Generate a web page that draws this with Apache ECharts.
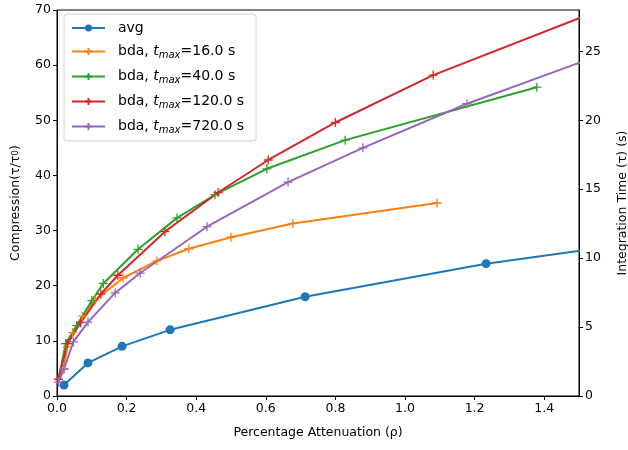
<!DOCTYPE html>
<html>
<head>
<meta charset="utf-8">
<script src="https://cdn.jsdelivr.net/npm/echarts@6/dist/echarts.min.js"></script>
<style>html,body{margin:0;padding:0;background:#fff;}#c{width:628px;height:450px;}</style>
</head>
<body>
<div id="c"></div>
<script>
// Data
const seriesNames = ['avg', 'bda16', 'bda40', 'bda120', 'bda720'];
const tmaxLabels = ['16.0', '40.0', '120.0', '720.0'];
const avgData = [[0.02, 2], [0.089, 6], [0.187, 9], [0.325, 12], [0.713, 18], [1.233, 24], [1.93, 30]];
const bda16Data = [[0.004, 3], [0.02, 4.9], [0.029, 8.9], [0.045, 11.5], [0.073, 14.5], [0.11, 17.4], [0.19, 21.4], [0.287, 24.5], [0.379, 26.7], [0.50, 28.8], [0.678, 31.3], [1.092, 35.0]];
const bda40Data = [[0.004, 3], [0.025, 9.5], [0.057, 12.8], [0.1, 17.3], [0.133, 20.4], [0.233, 26.6], [0.345, 32.3], [0.454, 36.5], [0.603, 41.2], [0.828, 46.4], [1.379, 56.0]];
const bda120Data = [[0.004, 3], [0.03, 9.5], [0.068, 13.3], [0.126, 18.5], [0.175, 21.9], [0.31, 29.8], [0.463, 36.9], [0.607, 42.8], [0.80, 49.6], [1.081, 58.2], [1.7, 73.4]];
const bda720Data = [[0.004, 2.5], [0.02, 4.9], [0.047, 9.8], [0.089, 13.4], [0.167, 18.7], [0.239, 22.3], [0.431, 30.7], [0.664, 38.8], [0.879, 45.0], [1.178, 53.0], [1.7, 65.0]];
const xTicks = [0, 0.2, 0.4, 0.6, 0.8, 1.0, 1.2, 1.4];
const leftTicks = [0, 10, 20, 30, 40, 50, 60, 70];
const rightTicks = [0, 5, 10, 15, 20, 25];

const colors = ['#1f77b4', '#ff7f0e', '#2ca02c', '#d62728', '#9467bd'];
const FONT = 'DejaVu Sans';
const plusPath = 'path://M5,0L5,10M0,5L10,5';

function mkSeries(name, data, color, isAvg) {
  return {
    name: name,
    type: 'line',
    data: data,
    xAxisIndex: 0,
    yAxisIndex: 0,
    clip: true,
    color: color,
    lineStyle: {color: color, width: 2},
    symbol: isAvg ? 'circle' : plusPath,
    symbolSize: 9,
    showSymbol: true,
    itemStyle: isAvg ? {color: color} : {color: color, borderColor: color, borderWidth: 1.3},
    emphasis: {disabled: true},
    animation: false
  };
}

const dataSets = [avgData, bda16Data, bda40Data, bda120Data, bda720Data];
const series = seriesNames.map((n, i) => mkSeries(n, dataSets[i], colors[i], i === 0));

const chart = echarts.init(document.getElementById('c'), null, {renderer: 'canvas'});
chart.setOption({
  animation: false,
  backgroundColor: '#fff',
  textStyle: {fontFamily: FONT},
  grid: {left: 57, right: 49, top: 10, bottom: 54, show: true, borderColor: '#000', borderWidth: 1, backgroundColor: 'transparent', containLabel: false, outerBoundsMode: 'none'},
  legend: {
    orient: 'vertical',
    left: 64, top: 14,
    backgroundColor: 'rgba(255,255,255,0.8)',
    borderColor: '#d0d0d0', borderWidth: 1, borderRadius: 3,
    padding: [7, 12, 6, 7],
    itemWidth: 33, itemHeight: 9, itemGap: 8,
    data: seriesNames,
    formatter: function (name) {
      if (name === 'avg') return '{n|avg}';
      const i = seriesNames.indexOf(name) - 1;
      return '{n|bda, }{t|t}{s|max}{n|=' + tmaxLabels[i] + ' s}';
    },
    textStyle: {
      fontFamily: FONT, fontSize: 14, color: '#000', padding: [0, 0, 0, 8],
      rich: {
        n: {fontFamily: FONT, fontSize: 14, color: '#000', lineHeight: 17},
        t: {fontFamily: FONT, fontSize: 14, fontStyle: 'italic', color: '#000', lineHeight: 17},
        s: {fontFamily: FONT, fontSize: 10, fontStyle: 'italic', color: '#000', padding: [7, 0, 0, 0], lineHeight: 17}
      }
    }
  },
  xAxis: [{
    type: 'value', min: 0, max: 1.5, interval: 0.2,
    name: 'Percentage Attenuation (ρ)',
    nameLocation: 'middle', nameGap: 30,
    nameTextStyle: {fontFamily: FONT, fontSize: 12.5, color: '#000'},
    axisLine: {show: true, onZero: false, lineStyle: {color: '#000', width: 1}},
    axisTick: {show: true, length: 4, inside: false, lineStyle: {color: '#000'}, customValues: xTicks},
    axisLabel: {fontFamily: FONT, fontSize: 12.5, color: '#000', margin: 6, customValues: xTicks, formatter: v => v.toFixed(1)},
    splitLine: {show: false}
  }],
  yAxis: [{
    type: 'value', min: 0, max: 70, interval: 10, position: 'left',
    name: 'Compression(τ/τ{sub|0})',
    nameLocation: 'middle', nameGap: 35, nameRotate: 90,
    nameTextStyle: {fontFamily: FONT, fontSize: 12.5, color: '#000', rich: {sub: {fontSize: 9, fontFamily: FONT, color: '#000', padding: [0, 0, 0, 0]}}},
    axisLine: {show: true, lineStyle: {color: '#000', width: 1}},
    axisTick: {show: true, length: 4, lineStyle: {color: '#000'}, customValues: leftTicks},
    axisLabel: {fontFamily: FONT, fontSize: 12.5, color: '#000', margin: 6, customValues: leftTicks},
    splitLine: {show: false}
  }, {
    type: 'value', min: 0, max: 28, position: 'right',
    name: 'Integration Time (τ) (s)',
    nameLocation: 'middle', nameGap: 37, nameRotate: 90,
    nameTextStyle: {fontFamily: FONT, fontSize: 12.5, color: '#000'},
    axisLine: {show: true, lineStyle: {color: '#000', width: 1}},
    axisTick: {show: true, length: 4, lineStyle: {color: '#000'}, customValues: rightTicks},
    axisLabel: {fontFamily: FONT, fontSize: 12.5, color: '#000', margin: 6, customValues: rightTicks},
    splitLine: {show: false}
  }],
  series: series
});
</script>
</body>
</html>
